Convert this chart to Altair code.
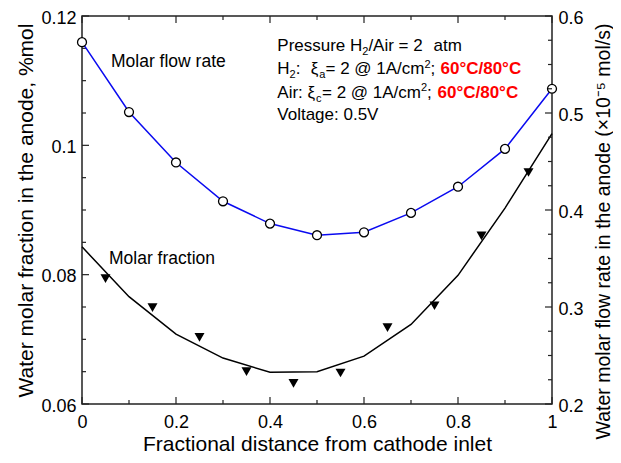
import altair as alt
import pandas as pd

FONT = "Liberation Sans, Arial, Helvetica, sans-serif"

# ---- data ----
x_pos = [0.0, 0.1, 0.2, 0.3, 0.4, 0.5, 0.6, 0.7, 0.8, 0.9, 1.0]
flow_rate = [0.573, 0.501, 0.449, 0.409, 0.386, 0.374, 0.377, 0.397, 0.424, 0.463, 0.525]
fraction_line = [0.0843, 0.0766, 0.0708, 0.0671, 0.0649, 0.0650, 0.0674, 0.0723, 0.0799, 0.0903, 0.1018]
tri_x = [0.05, 0.15, 0.25, 0.35, 0.45, 0.55, 0.65, 0.75, 0.85, 0.95]
fraction_pts = [0.0794, 0.0749, 0.0703, 0.0650, 0.0632, 0.0648, 0.0718, 0.0752, 0.0860, 0.0958]

x_major = [0, 0.2, 0.4, 0.6, 0.8, 1.0]
x_minor = [0.1, 0.3, 0.5, 0.7, 0.9]
left_major = [0.06, 0.08, 0.1, 0.12]
left_minor = [0.065, 0.07, 0.075, 0.085, 0.09, 0.095, 0.105, 0.11, 0.115]
right_major = [0.2, 0.3, 0.4, 0.5, 0.6]
right_minor = [0.225, 0.25, 0.275, 0.325, 0.35, 0.375, 0.425, 0.45, 0.475, 0.525, 0.55, 0.575]

W, H = 470, 388
MAJ, MIN = 7, 4
AX = "#222222"
LBL = "format(datum.value, '.2~f')"

flow_df = pd.DataFrame({"x": x_pos, "flow": flow_rate})
frac_line_df = pd.DataFrame({"x": x_pos, "frac": fraction_line})
frac_pts_df = pd.DataFrame({"x": tri_x, "frac": fraction_pts})

xs = alt.Scale(domain=[0, 1], nice=False, zero=False)
x_axis = alt.Axis(values=x_major, labelExpr=LBL, ticks=False, tickSize=0, domain=False, grid=False,
                  labelFont=FONT, labelFontSize=18, labelColor="black", labelPadding=9,
                  labelFlush=False, labelOverlap=False, labelBound=False,
                  title="Fractional distance from cathode inlet", titleFont=FONT, titleFontSize=21,
                  titleFontWeight="normal", titleColor="black", titleY=46, titleBaseline="alphabetic")
X = lambda f: alt.X(f, type="quantitative", scale=xs, axis=x_axis)

ls = alt.Scale(domain=[0.06, 0.12], nice=False, zero=False)
left_axis = alt.Axis(orient="left", values=left_major, labelExpr=LBL, ticks=False, tickSize=0, domain=False,
                     grid=False, labelFont=FONT, labelFontSize=18, labelColor="black", labelPadding=6,
                     labelOffset=2, labelOverlap=False, labelBound=False,
                     title="Water molar fraction in the anode, %mol", titleFont=FONT, titleFontSize=21,
                     titleFontWeight="normal", titleColor="black", titleAngle=270, titleX=-56,
                     titleY=H / 2, titleAlign="center", titleBaseline="middle")
YL = lambda f: alt.Y(f, type="quantitative", scale=ls, axis=left_axis)

rs = alt.Scale(domain=[0.2, 0.6], nice=False, zero=False)
right_axis = alt.Axis(orient="right", values=right_major, labelExpr=LBL, ticks=False, tickSize=0, domain=False,
                      grid=False, labelFont=FONT, labelFontSize=18, labelColor="black", labelPadding=6,
                      labelOffset=2, labelOverlap=False, labelBound=False,
                      title="Water molar flow rate in the anode (×10⁻⁵ mol/s)", titleFont=FONT,
                      titleFontSize=19.5, titleFontWeight="normal", titleColor="black", titleAngle=270,
                      titleX=51, titleY=215, titleAlign="center", titleBaseline="middle")
YR = lambda f: alt.Y(f, type="quantitative", scale=rs, axis=right_axis)


def tickrule(vals, chan, a, b):
    d = pd.DataFrame({"v": vals})
    m = alt.Chart(d).mark_rule(color=AX, strokeWidth=1.2)
    if chan == "x":
        return m.encode(x=X("v"), y=alt.value(a), y2=alt.value(b))
    if chan == "yl":
        return m.encode(y=YL("v"), x=alt.value(a), x2=alt.value(b))
    return m.encode(y=YR("v"), x=alt.value(a), x2=alt.value(b))


# fraction group (left axis)
frac_line = alt.Chart(frac_line_df).mark_line(color="black", strokeWidth=1.5).encode(x=X("x"), y=YL("frac"))
frac_tri = alt.Chart(frac_pts_df).mark_point(shape="triangle-down", filled=True, color="black",
                                             size=100, opacity=1).encode(x=X("x"), y=YL("frac"))
left_group = alt.layer(frac_line, frac_tri,
                       tickrule(left_major, "yl", 0, MAJ), tickrule(left_minor, "yl", 0, MIN))

# flow group (right axis)
flow_line = alt.Chart(flow_df).mark_line(color="#0a0af0", strokeWidth=1.5).encode(x=X("x"), y=YR("flow"))
flow_pts = alt.Chart(flow_df).mark_point(shape="circle", filled=True, fill="white", stroke="black",
                                         strokeWidth=1.3, size=80, opacity=1).encode(x=X("x"), y=YR("flow"))
right_group = alt.layer(flow_line, flow_pts,
                        tickrule(right_major, "yr", W, W - MAJ), tickrule(right_minor, "yr", W, W - MIN))

x_ticks = alt.layer(tickrule(x_major, "x", H, H - MAJ), tickrule(x_minor, "x", H, H - MIN),
                    tickrule(x_major, "x", 0, MAJ), tickrule(x_minor, "x", 0, MIN))

# annotations: (text, x, y, size, color, weight)
one = pd.DataFrame({"a": [0]})
segments = [
    ("Molar flow rate", 29, 51, 17.5, "black", "normal"),
    ("Molar fraction", 27, 247.5, 17.5, "black", "normal"),
    ("Pressure H", 195.3, 35, 17, "black", "normal"),
    ("2", 280.3, 39, 11, "black", "normal"),
    ("/Air = 2", 286.4, 35, 17, "black", "normal"),
    ("atm", 351.5, 35, 17, "black", "normal"),
    ("H", 195.3, 58.3, 17, "black", "normal"),
    ("2", 207.6, 62.3, 11, "black", "normal"),
    (":", 213.7, 58.3, 17, "black", "normal"),
    ("ξ", 228.7, 58.3, 17, "black", "normal"),
    ("a", 237.2, 62.3, 11, "black", "normal"),
    ("= 2 @ 1A/cm", 243.5, 58.3, 17, "black", "normal"),
    ("2", 342.5, 52, 11, "black", "normal"),
    (";", 348.6, 58.3, 17, "black", "normal"),
    ("60°C/80°C", 358.5, 58.3, 17, "#ff0000", "bold"),
    ("Air:", 195.3, 81.6, 17, "black", "normal"),
    ("ξ", 225.5, 81.6, 17, "black", "normal"),
    ("c", 234.0, 85.6, 11, "black", "normal"),
    ("= 2 @ 1A/cm", 240.0, 81.6, 17, "black", "normal"),
    ("2", 339.0, 75.3, 11, "black", "normal"),
    (";", 345.1, 81.6, 17, "black", "normal"),
    ("60°C/80°C", 355.5, 81.6, 17, "#ff0000", "bold"),
    ("Voltage: 0.5V", 195.3, 103.5, 17, "black", "normal"),
]
texts = [
    alt.Chart(one).mark_text(text=t, align="left", baseline="alphabetic", font=FONT, fontSize=s,
                             color=c, fontWeight=w).encode(x=alt.value(px), y=alt.value(py))
    for (t, px, py, s, c, w) in segments
]

chart = alt.layer(left_group, right_group, x_ticks, *texts).resolve_scale(y="independent").properties(
    width=W, height=H,
    autosize=alt.AutoSizeParams(type="none"),
    padding={"left": 74, "top": 8, "right": 61, "bottom": 51},
    background="white",
).configure_view(stroke=AX, strokeWidth=1.5)

chart.save("out.html", embed_options={"renderer": "svg", "actions": False})
